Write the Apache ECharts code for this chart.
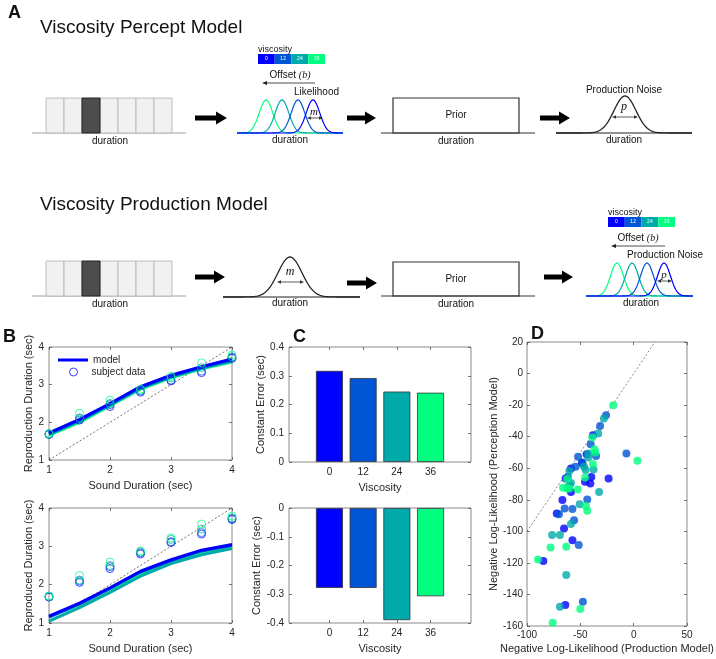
<!DOCTYPE html>
<html><head><meta charset="utf-8">
<script src="https://cdn.jsdelivr.net/npm/echarts@6/dist/echarts.min.js"></script>
<style>html,body{margin:0;padding:0;background:#fff}#c{width:716px;height:659px}</style>
</head><body><div id="c"></div>
<script>
// ---------------- data ----------------
const durations = [1, 1.5, 2, 2.5, 3, 3.5, 4];
const viscosities = [0, 12, 24, 36];
const viscColors = ['#0000ff', '#0055d4', '#00aaaa', '#00ff80'];

// Panel B top: perception model fits per viscosity
const perc0 = [1.72, 2.08, 2.50, 2.95, 3.25, 3.48, 3.68];
const perc12 = [1.70, 2.06, 2.48, 2.93, 3.23, 3.46, 3.66];
const perc24 = [1.68, 2.03, 2.46, 2.90, 3.20, 3.44, 3.62];
const perc36 = [1.66, 2.00, 2.44, 2.88, 3.18, 3.42, 3.60];
// Panel B bottom: production model fits per viscosity
const prod0 = [1.18, 1.52, 1.92, 2.35, 2.65, 2.90, 3.05];
const prod12 = [1.15, 1.50, 1.90, 2.33, 2.63, 2.88, 3.02];
const prod24 = [1.05, 1.40, 1.80, 2.22, 2.55, 2.78, 2.94];
const prod36 = [1.17, 1.48, 1.88, 2.28, 2.60, 2.82, 2.98];
// subject data per viscosity
const subj0 = [1.68, 2.06, 2.42, 2.80, 3.10, 3.32, 3.70];
const subj12 = [1.68, 2.10, 2.47, 2.83, 3.12, 3.36, 3.72];
const subj24 = [1.70, 2.12, 2.50, 2.85, 3.18, 3.45, 3.74];
const subj36 = [1.70, 2.24, 2.59, 2.88, 3.22, 3.58, 3.79];

// Panel C: constant error
const cePerception = [0.317, 0.292, 0.245, 0.241];
const ceProduction = [-0.278, -0.278, -0.390, -0.307];

// Panel D: [production NLL, perception NLL]
const nll0 = [[-38.2,-39.1],[-44.1,-51.1],[-48.5,-56.4],[-58.8,-60.2],[-39.7,-65.5],[-23.5,-66.5],[-63.8,-66.5],[-45.6,-68.6],[-40.6,-69.7],[-58.8,-75],[-66.8,-80.2],[-72.1,-88.7],[-65.3,-98.2],[-57.4,-105.6],[-84.7,-118.8],[-64.1,-146.7]];
const nll12 = [[-25.9,-26.4],[-31.5,-33.2],[-40.3,-44.8],[-35.3,-52.2],[-52.1,-52.8],[-6.8,-50.7],[-54.4,-59.1],[-48,-57],[-61.8,-65.5],[-43.5,-79.8],[-64.7,-85.5],[-57.4,-85.9],[-70,-89.1],[-55.9,-92.9],[-51.5,-108.7],[-47.6,-144.6]];
const nll24 = [[-27.9,-28.5],[-33.2,-38.0],[-42.6,-50.7],[-42.6,-53.2],[-46.5,-59.1],[-45,-61.2],[-37.6,-60.8],[-60.3,-61.7],[-58.8,-69.3],[-60.3,-70.7],[-32.4,-75],[-50.6,-82.8],[-58.8,-95.4],[-76.5,-102.4],[-69.1,-102.4],[-63.2,-127.7],[-69.1,-147.8]];
const nll36 = [[-19.1,-20.1],[-38.8,-40.6],[-36.8,-47.9],[-35.9,-50],[3.5,-55.3],[-38.2,-57.4],[-62.4,-66.9],[-45.6,-65.9],[-66.2,-72.4],[-62.4,-72.8],[-60.5,-72.8],[-52.4,-73.5],[-44.7,-84],[-43.5,-87],[-77.9,-110.2],[-63.2,-109.8],[-89.7,-117.8],[-50,-149.2],[-75.9,-157.9]];

// ---------------- helpers ----------------
const FONT = '"Liberation Sans", Arial, sans-serif';
const TXT = '#262626';
const BORDER = '#8a8a8a';
const pair = (xs, ys) => xs.map((x, i) => [x, ys[i]]);

function axBase(gi, min, max, interval, pos, opts) {
  const a = {
    type: 'value', gridIndex: gi, position: pos, min: min, max: max,
    axisLine: { show: false, onZero: false },
    axisTick: { show: true, inside: true, length: 3, lineStyle: { color: '#555', width: 0.8 } },
    axisLabel: { show: true, color: TXT, fontFamily: FONT, fontSize: 10, margin: 5 },
    splitLine: { show: false }
  };
  if (interval != null) a.interval = interval;
  return Object.assign(a, opts || {});
}
function mirror(gi, min, max, interval, pos, custom) {
  const a = axBase(gi, min, max, interval, pos, {});
  a.axisLabel = { show: false };
  if (custom) a.axisTick.customValues = custom;
  return a;
}
function nameOpts(name, gap) {
  return { name: name, nameLocation: 'middle', nameGap: gap,
    nameTextStyle: { color: TXT, fontFamily: FONT, fontSize: 11 } };
}

const grids = [
  { left: 49, top: 347, width: 183, height: 113 },
  { left: 49, top: 508, width: 183, height: 115 },
  { left: 289, top: 347, width: 182, height: 115 },
  { left: 289, top: 508, width: 182, height: 115 },
  { left: 527, top: 342, width: 171, height: 284 }
].map(g => Object.assign(g, { show: true, borderColor: BORDER, borderWidth: 1, backgroundColor: 'transparent', containLabel: false }));

const cXMin = -14.4, cXMax = 50.4;

const xAxes = [
  axBase(0, 1, 4, 1, 'bottom', nameOpts('Sound Duration (sec)', 20)),
  axBase(1, 1, 4, 1, 'bottom', nameOpts('Sound Duration (sec)', 20)),
  axBase(2, cXMin, cXMax, null, 'bottom', nameOpts('Viscosity', 20)),
  axBase(3, cXMin, cXMax, null, 'bottom', nameOpts('Viscosity', 20)),
  axBase(4, -100, 50, 50, 'bottom', nameOpts('Negative Log-Likelihood (Production Model)', 17)),
  mirror(0, 1, 4, 1, 'top'),
  mirror(1, 1, 4, 1, 'top'),
  mirror(2, cXMin, cXMax, null, 'top', viscosities),
  mirror(3, cXMin, cXMax, null, 'top', viscosities),
  mirror(4, -100, 50, 50, 'top')
];
[2, 3].forEach(i => {
  xAxes[i].axisTick.customValues = viscosities;
  xAxes[i].axisLabel.customValues = viscosities;
});
xAxes[4].axisLabel.margin = 4;

const yAxes = [
  axBase(0, 1, 4, 1, 'left', nameOpts('Reproduction Duration (sec)', 12)),
  axBase(1, 1, 4, 1, 'left', nameOpts('Reproduced Duration (sec)', 12)),
  axBase(2, 0, 0.4, 0.1, 'left', nameOpts('Constant Error (sec)', 23)),
  axBase(3, -0.4, 0, 0.1, 'left', nameOpts('Constant Error (sec)', 27)),
  axBase(4, -160, 20, 20, 'left', nameOpts('Negative Log-Likelihood (Perception Model)', 23)),
  mirror(0, 1, 4, 1, 'right'),
  mirror(1, 1, 4, 1, 'right'),
  mirror(2, 0, 0.4, 0.1, 'right'),
  mirror(3, -0.4, 0, 0.1, 'right'),
  mirror(4, -160, 20, 20, 'right')
];
yAxes[4].axisLabel.margin = 4;

const series = [];
function diag(gi, pts, color) {
  series.push({ type: 'line', xAxisIndex: gi, yAxisIndex: gi, data: pts, symbol: 'none', silent: true,
    lineStyle: { color: color, width: 0.7, type: [2, 2] }, z: 1 });
}
// B top
diag(0, [[1, 1], [4, 4]], '#333');
[perc36, perc24, perc12, perc0].forEach((arr, k) => {
  const i = 3 - k;
  series.push({ type: 'line', name: i === 0 ? 'model' : 'model' + i, xAxisIndex: 0, yAxisIndex: 0,
    data: pair(durations, arr), symbol: 'none', lineStyle: { color: viscColors[i], width: 3 }, itemStyle: { color: viscColors[i] }, z: 2 });
});
[subj0, subj12, subj24, subj36].forEach((arr, i) => {
  series.push({ type: 'scatter', name: i === 0 ? 'subject data' : 'subj' + i, xAxisIndex: 0, yAxisIndex: 0,
    data: pair(durations, arr), symbol: 'circle', symbolSize: 8,
    itemStyle: { color: 'rgba(255,255,255,0)', borderColor: viscColors[i], borderWidth: 1, opacity: 0.75 }, z: 3 });
});
// B bottom
diag(1, [[1, 1], [4, 4]], '#333');
[prod36, prod24, prod12, prod0].forEach((arr, k) => {
  const i = 3 - k;
  series.push({ type: 'line', name: 'prod' + i, xAxisIndex: 1, yAxisIndex: 1,
    data: pair(durations, arr), symbol: 'none', lineStyle: { color: viscColors[i], width: 3 }, z: 2 });
});
[subj0, subj12, subj24, subj36].forEach((arr, i) => {
  series.push({ type: 'scatter', name: 'subjB' + i, xAxisIndex: 1, yAxisIndex: 1,
    data: pair(durations, arr), symbol: 'circle', symbolSize: 8,
    itemStyle: { color: 'rgba(255,255,255,0)', borderColor: viscColors[i], borderWidth: 1, opacity: 0.75 }, z: 3 });
});
// C
function bars(gi, vals) {
  series.push({ type: 'bar', xAxisIndex: gi, yAxisIndex: gi, barWidth: 27,
    data: viscosities.map((v, i) => ({ value: [v, vals[i]], itemStyle: { color: viscColors[i] } })),
    itemStyle: { borderColor: '#333', borderWidth: 0.8 } });
}
bars(2, cePerception);
bars(3, ceProduction);
// D
diag(4, [[-100, -100], [20, 20]], '#555');
[nll0, nll12, nll24, nll36].forEach((arr, i) => {
  series.push({ type: 'scatter', xAxisIndex: 4, yAxisIndex: 4, data: arr, symbol: 'circle', symbolSize: 8,
    itemStyle: { color: viscColors[i] }, z: 3 });
});

// ---------------- schematic (panel A) ----------------
const G = [];
function text(t, x, y, size, opts) {
  G.push({ type: 'text', silent: true, z: 10, style: Object.assign({ text: t, x: x, y: y, fill: '#111',
    font: size + 'px ' + FONT, textAlign: 'left', textVerticalAlign: 'middle' }, opts || {}) });
}
function line(x0, y0, x1, y1, color, w) {
  G.push({ type: 'line', silent: true, shape: { x1: x0, y1: y0, x2: x1, y2: y1 }, style: { stroke: color, lineWidth: w } });
}
function bigArrow(x0, x1, y) {
  G.push({ type: 'polygon', silent: true, shape: { points: [[x0, y - 2.5], [x1 - 11, y - 2.5], [x1 - 11, y - 6.5], [x1, y], [x1 - 11, y + 6.5], [x1 - 11, y + 2.5], [x0, y + 2.5]] }, style: { fill: '#000' } });
}
function leftArrow(x0, x1, y) {
  line(x0 + 3, y, x1, y, '#222', 0.8);
  G.push({ type: 'polygon', silent: true, shape: { points: [[x0, y], [x0 + 5, y - 2], [x0 + 5, y + 2]] }, style: { fill: '#222' } });
}
function dblArrow(x0, x1, y) {
  line(x0 + 2, y, x1 - 2, y, '#333', 0.8);
  G.push({ type: 'polygon', silent: true, shape: { points: [[x0, y], [x0 + 4, y - 1.8], [x0 + 4, y + 1.8]] }, style: { fill: '#333' } });
  G.push({ type: 'polygon', silent: true, shape: { points: [[x1, y], [x1 - 4, y - 1.8], [x1 - 4, y + 1.8]] }, style: { fill: '#333' } });
}
function bump(cx, base, h, sigma, x0, x1, color, w) {
  const pts = [];
  for (let x = x0; x <= x1; x += 1) pts.push([x, base - h * Math.exp(-((x - cx) * (x - cx)) / (2 * sigma * sigma))]);
  G.push({ type: 'polyline', silent: true, shape: { points: pts }, style: { stroke: color, lineWidth: w, fill: null } });
}
function cells(yTop, yBot) {
  for (let i = 0; i < 7; i++) {
    const dark = i === 2;
    G.push({ type: 'rect', silent: true, shape: { x: 46 + i * 18, y: yTop, width: 18, height: yBot - yTop },
      style: { fill: dark ? '#4d4d4d' : '#f1f1f1', stroke: dark ? '#222' : '#b0b0b0', lineWidth: dark ? 1 : 0.8 }, z: dark ? 2 : 1 });
  }
  line(32, yBot, 186, yBot, '#a0a0a0', 1);
  text('duration', 110, yBot + 8, 10, { textAlign: 'center' });
}
function prior(yTop, yBot) {
  G.push({ type: 'rect', silent: true, shape: { x: 393, y: yTop, width: 126, height: yBot - yTop }, style: { fill: '#fff', stroke: '#333', lineWidth: 1.2 } });
  line(381, yBot, 535, yBot, '#333', 1.2);
  text('Prior', 456, (yTop + yBot) / 2, 10, { textAlign: 'center' });
  text('duration', 456, yBot + 8, 10, { textAlign: 'center' });
}
function colorbar(x, y) {
  viscosities.forEach((v, i) => {
    G.push({ type: 'rect', silent: true, shape: { x: x + i * 16.75, y: y, width: 16.75, height: 10 }, style: { fill: viscColors[i], stroke: null } });
    text(String(v), x + i * 16.75 + 8.4, y + 5, 5, { textAlign: 'center', fill: '#fff' });
  });
  text('viscosity', x, y - 4, 9);
}
function offsetLabel(cx, y) {
  G.push({ type: 'text', silent: true, style: { text: '{a|Offset }{b|(b)}', x: cx, y: y, textAlign: 'center', textVerticalAlign: 'middle',
    rich: { a: { fontFamily: FONT, fontSize: 10, fill: '#111', color: '#111' }, b: { fontFamily: '"Liberation Serif", serif', fontStyle: 'italic', fontSize: 10, fill: '#111', color: '#111' } } } });
}
const gaussOrder = [3, 2, 1, 0];

// labels
text('A', 8, 13, 18, { font: 'bold 18px ' + FONT });
text('Viscosity Percept Model', 40, 28, 19);
text('Viscosity Production Model', 40, 205, 19);
text('B', 3, 337, 18, { font: 'bold 18px ' + FONT });
text('C', 293, 337, 18, { font: 'bold 18px ' + FONT });
text('D', 531, 334, 18, { font: 'bold 18px ' + FONT });

// Row 1
cells(98, 133);
bigArrow(195, 227, 118);
colorbar(258, 54);
offsetLabel(290, 75);
leftArrow(262, 315, 83);
text('Likelihood', 294, 92, 10);
[266, 282, 298, 313].forEach((cx, k) => bump(cx, 133, 33, 6.8, 237, 343, viscColors[gaussOrder[k]], 1.2));
text('m', 314, 112, 11, { textAlign: 'center', font: 'italic 11px "Liberation Serif", serif' });
dblArrow(307, 323, 118);
text('duration', 290, 140, 10, { textAlign: 'center' });
bigArrow(347, 376, 118);
prior(98, 133);
bigArrow(540, 570, 118);
line(556, 133, 692, 133, '#222', 1.2);
bump(625, 133, 37, 11, 556, 692, '#222', 1.3);
text('Production Noise', 624, 90, 10, { textAlign: 'center' });
text('p', 624, 107, 12, { textAlign: 'center', font: 'italic 12px "Liberation Serif", serif' });
dblArrow(612, 638, 117);
text('duration', 624, 140, 10, { textAlign: 'center' });

// Row 2
cells(261, 296);
bigArrow(195, 225, 277);
line(223, 297, 360, 297, '#222', 1.2);
bump(290, 297, 40, 12, 223, 360, '#222', 1.3);
text('m', 290, 272, 12, { textAlign: 'center', font: 'italic 12px "Liberation Serif", serif' });
dblArrow(277, 304, 282);
text('duration', 290, 303, 10, { textAlign: 'center' });
bigArrow(347, 377, 283);
prior(262, 296);
bigArrow(544, 573, 277);
colorbar(608, 217);
offsetLabel(638, 238);
leftArrow(611, 665, 246);
text('Production Noise', 627, 255, 10);
[617, 632, 647, 664].forEach((cx, k) => bump(cx, 296, 33, 6.5, 586, 693, viscColors[gaussOrder[k]], 1.2));
text('p', 664, 275, 11, { textAlign: 'center', font: 'italic 11px "Liberation Serif", serif' });
dblArrow(657, 672, 281);
text('duration', 641, 303, 10, { textAlign: 'center' });

const legendText = { fontSize: 10, color: TXT, fontFamily: FONT };
const chart = echarts.init(document.getElementById('c'), null, { renderer: 'canvas' });
chart.setOption({
  animation: false,
  backgroundColor: '#fff',
  textStyle: { fontFamily: FONT },
  grid: grids,
  xAxis: xAxes,
  yAxis: yAxes,
  legend: [
    { data: [{ name: 'model', icon: 'rect' }], left: 58, top: 355, itemWidth: 30, itemHeight: 3, itemGap: 0,
      textStyle: legendText, padding: 0, selectedMode: false },
    { data: [{ name: 'subject data', icon: 'circle' }], left: 69, top: 367, itemWidth: 8, itemHeight: 8, itemGap: 0,
      itemStyle: { color: 'rgba(255,255,255,0)', borderColor: '#0000ff', borderWidth: 1 },
      textStyle: Object.assign({ padding: [0, 0, 0, 9] }, legendText), padding: 0, selectedMode: false }
  ],
  series: series,
  graphic: G
});
</script></body></html>
